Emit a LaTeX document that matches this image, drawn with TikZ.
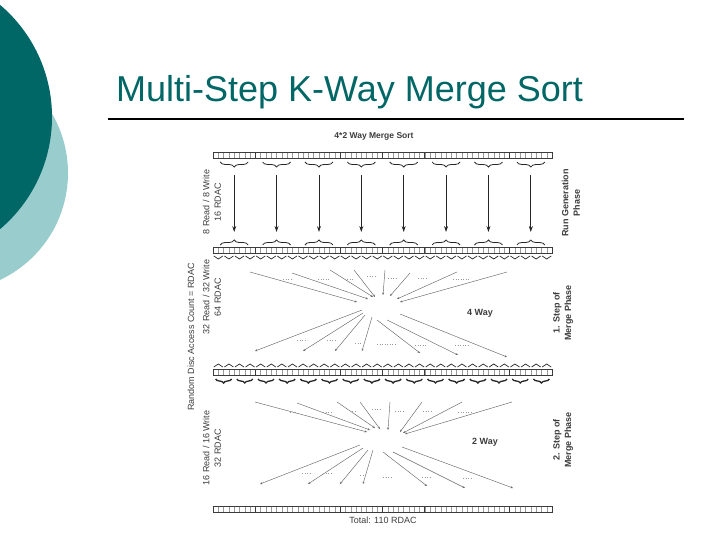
\documentclass[tikz,border=0pt]{standalone}
\usepackage{fontspec}
\setmainfont{Liberation Sans}
\usetikzlibrary{arrows.meta,decorations.pathreplacing}
\definecolor{deepteal}{RGB}{0,102,102}
\definecolor{paleteal}{RGB}{153,204,204}
\definecolor{inkgray}{RGB}{60,60,60}

% one row of 64 disc blocks, #1 = top edge
\newcommand{\diskrow}[1]{%
  \foreach \i in {1,...,63} \draw[cell] ({213+\i*5.297},#1) -- ++(0,6.5);
  \foreach \i in {8,24,32,40,56} \draw[inkgray,line width=0.8pt] ({213+\i*5.297},#1) -- ++(0,6.5);
  \draw[rowframe] (213,#1) rectangle (552,{#1+6.5});}

\begin{document}
\begin{tikzpicture}[x=1pt,y=-1pt,
  cell/.style={draw=black!40,line width=0.4pt},
  rowframe/.style={draw=inkgray,line width=0.7pt},
  brc/.style={decorate,decoration={brace,amplitude=#1},draw=black!85,line width=0.8pt},
  brc/.default=5pt,
  runarrow/.style={-{Stealth[length=6pt,width=4pt]},draw=black!85,line width=0.8pt},
  fanarrow/.style={-{Stealth[length=2.5pt,width=2pt]},draw=black!60,line width=0.45pt},
  gap/.style={draw=black!40,dotted,line width=0.5pt},
  lbl/.style={font=\fontsize{9}{11.5}\selectfont,text=inkgray,align=center,inner sep=0pt},
  phase/.style={lbl,font=\fontsize{9}{11.5}\selectfont\bfseries}]
\useasboundingbox (0,0) rectangle (720,540);
% slide decoration
\begin{scope}
\clip (0,0) rectangle (720,540);
\fill[paleteal] (-50,173) circle (118);
\fill[deepteal] (-95,117) circle (147);
\end{scope}
\node[anchor=base west,inner sep=0pt,text=deepteal,font=\fontsize{36}{40}\selectfont] (title) at (116,102) {Multi-Step K-Way Merge Sort};
\draw[line width=2pt] (108,119) -- (684,119);

\node[phase,font=\fontsize{8.5}{10}\selectfont\bfseries] (head) at (374,136) {4*2 Way Merge Sort};

% rows
\diskrow{152}
\diskrow{247}
\diskrow{369}
\diskrow{506}

% run generation phase
\foreach \k in {0,...,7} {
  \pgfmathsetmacro{\xc}{213+(8*\k+4)*5.297}
  \draw[brc,decoration={mirror}] ({\xc-14},162) -- ({\xc+14},162);
  \draw[runarrow] (\xc,175) -- (\xc,232);
  \draw[brc] ({\xc-14},245) -- ({\xc+14},245);
}
% small runs below row 2 and above row 3
\foreach \k in {0,...,31} {
  \pgfmathsetmacro{\xc}{213+(2*\k+1)*5.297}
  \draw[brc=3pt,line width=0.7pt,decoration={mirror}] ({\xc-4.5},256) -- ({\xc+4.5},256);
  \draw[brc=3pt,line width=0.7pt] ({\xc-4.5},367) -- ({\xc+4.5},367);
}
% runs below row 3
\foreach \k in {0,...,15} {
  \pgfmathsetmacro{\xc}{213+(4*\k+2)*5.297}
  \draw[brc=4pt,line width=1.3pt,decoration={mirror}] ({\xc-8},379) -- ({\xc+8},379);
}

% 4 way step
\foreach \ax/\ay/\bx/\by in {250/272/357/302,292/273/368/299,330/270/373/297,354/270/375/297,385/270/383/295,410/273/390/296,457/272/397/299,507/272/400/302}
  \draw[fanarrow] (\ax,\ay) -- (\bx,\by);
\foreach \ax/\ay/\bx/\by in {362/310/255/351,363/313/303/351,365/315/335/351,372/317/362/351,377/320/420/353,387/320/458/355,400/314/507/357}
  \draw[fanarrow] (\ax,\ay) -- (\bx,\by);
\foreach \ax/\bx/\y in {283/293/279,318/330/279,347/353/279,367/377/276,388/398/278,418/427/278,453/470/279,297/307/340,327/337/340,355/362/343,377/397/344,415/427/345,455/470/345}
  \draw[gap] (\ax,\y) -- (\bx,\y);
\node[phase] (four) at (480,313) {4 Way};

% 2 way step
\foreach \ax/\ay/\bx/\by in {255/402/367/432,297/403/370/430,337/402/375/428,360/402/380/429,390/402/388/430,422/402/400/432,462/402/403/433,512/402/405/434}
  \draw[fanarrow] (\ax,\ay) -- (\bx,\by);
\foreach \ax/\ay/\bx/\by in {360/445/260/484,363/448/308/484,368/450/340/484,373/450/363/484,383/452/427/486,393/452/465/488,402/447/513/488}
  \draw[fanarrow] (\ax,\ay) -- (\bx,\by);
\foreach \ax/\bx/\y in {290/297/412,323/333/412,352/357/411,372/380/409,395/405/411,423/432/411,458/472/412,302/310/473,323/333/473,360/367/475,383/393/477,422/430/477,463/473/478}
  \draw[gap] (\ax,\y) -- (\bx,\y);
\node[phase] (two) at (485,442) {2 Way};

\node[lbl] (total) at (383,520) {Total: 110 RDAC};

% access counts
\node[lbl,rotate=90] (cnt1) at (212,202) {8 Read / 8 Write\\16 RDAC};
\node[lbl,rotate=90] (cnt2) at (212,297) {32 Read / 32 Write\\64 RDAC};
\node[lbl,rotate=90] (cnt3) at (212,448) {16 Read / 16 Write\\32 RDAC};
\node[lbl,rotate=90] (rdac) at (191,337) {Random Disc Access Count = RDAC};

% phases
\node[phase,rotate=90] (ph1) at (571,203) {Run Generation\\Phase};
\node[phase,rotate=90] (ph2) at (563,313) {1. Step of\\Merge Phase};
\node[phase,rotate=90] (ph3) at (563,440) {2. Step of\\Merge Phase};
\end{tikzpicture}
\end{document}
